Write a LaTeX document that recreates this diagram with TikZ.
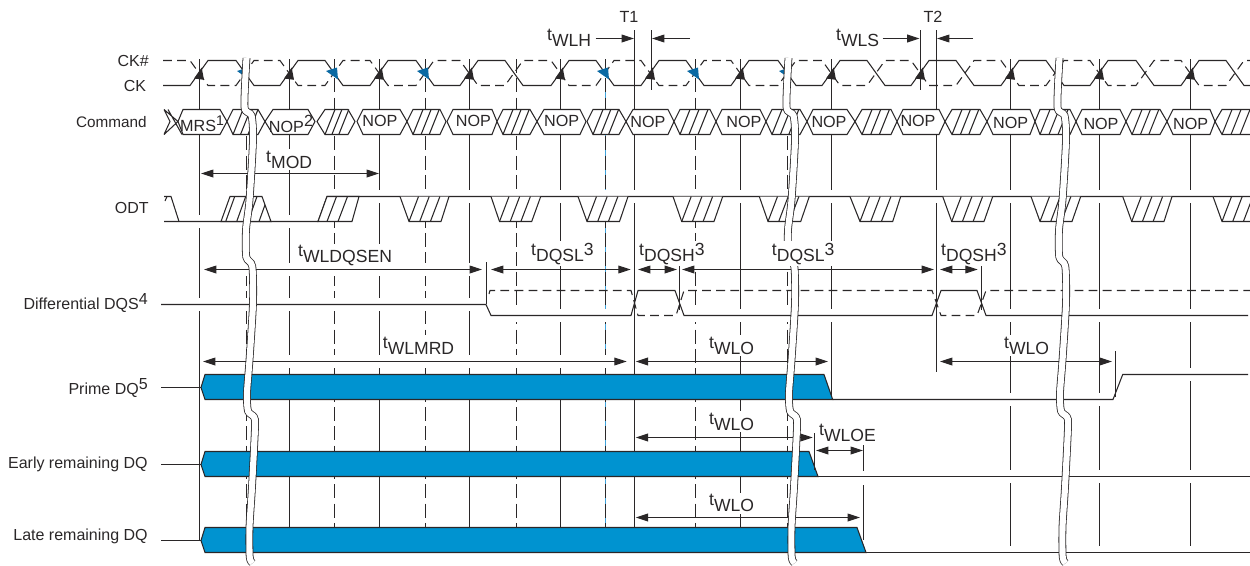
\documentclass[tikz,border=0pt]{standalone}
\usepackage{fontspec}
\setmainfont{Liberation Sans}
\usetikzlibrary{arrows.meta}
\definecolor{ink}{HTML}{2A2728}
\definecolor{qblue}{HTML}{0093D0}
\definecolor{dkblue}{HTML}{0A69A3}
\definecolor{ltblue}{HTML}{3FA2DA}
\newcommand{\upmark}[1]{\raisebox{3.4pt}{#1}}
\newcommand{\tparam}[2]{\upmark{t}#1\upmark{#2}}

\begin{document}
\begin{tikzpicture}[
        x=0.02cm, y=-0.02cm,
        wire/.style={draw=ink, line width=0.6pt},
        vline/.style={draw=ink, line width=0.55pt},
        dline/.style={draw=ink, line width=0.55pt, dash pattern=on 8pt off 3pt},
        dwire/.style={draw=ink, line width=0.6pt, dash pattern=on 5pt off 3pt},
        halo/.style={draw=white, line width=7.4pt},
        span/.style={{Triangle[length=7pt,width=4.4pt]}-{Triangle[length=7pt,width=4.4pt]}, draw=ink, line width=0.6pt},
        pointer/.style={-{Triangle[length=7pt,width=4.4pt]}, draw=ink, line width=0.6pt},
        bus/.style={draw=ink, fill=white, line width=0.6pt},
        bar/.style={draw=ink, fill=qblue, line width=0.6pt},
        sig/.style={anchor=east, inner sep=0pt, text=ink, font=\fontsize{9.1}{10}\selectfont},
        cmd/.style={inner sep=0pt, text=ink, font=\fontsize{9.2}{10}\selectfont},
        tlab/.style={anchor=base west, inner xsep=0.5pt, inner ysep=1pt, fill=white, text=ink, font=\fontsize{10}{11}\selectfont}
    ]
    \useasboundingbox (0,0) rectangle (1250,565);

    % Clock edges and cut marks
    \foreach \x in {199.5,289.5,379.5,469.5,560.5,740.5} \draw [vline] (\x,59) -- (\x,527);
    \draw [vline] (199.5,527) -- (199.5,540);
    \draw [vline] (831.5,59) -- (831.5,398);
    \draw [vline] (634.5,30) -- (634.5,527);
    \draw [vline] (651.5,30) -- (651.5,90);
    \draw [vline] (920.5,30) -- (920.5,90);
    \draw [vline] (936.5,30) -- (936.5,372);
    \foreach \x in {1010.5,1099.5,1190.5} \draw [vline] (\x,59) -- (\x,552);
    \draw [draw=ltblue, line width=0.5pt] (605.5,86) -- (605.5,527);
    \foreach \x in {246.5,334.5,425.5,516.5,605.5,695.5,787.5} \draw [dline] (\x,59) -- (\x,527);

    % White gaps in the edge lines
    \draw [halo] (164,221.5) -- (318,221.5);
    \draw [halo] (327,196.5) -- (1250,196.5);
    \draw [halo] (163,304.5) -- (486,304.5);
    \draw [halo] (491,315.5) -- (628,315.5);
    \draw [halo] (690,315.5) -- (926,315.5);
    \draw [halo] (990,315.5) -- (1250,315.5);
    \draw [halo] (833,399.5) -- (1113,399.5);
    \draw [halo] (1123,374.5) -- (1250,374.5);
    \draw [halo] (818,476.5) -- (1250,476.5);
    \draw [halo] (866,552.5) -- (1250,552.5);
    \draw [halo] (204,269.5) -- (482,269.5);
    \draw [halo] (203,361.5) -- (627,361.5);

    % CK and CK#
    \draw [dwire] (163,60.5) \foreach \r/\f in {199/245,289/334,379/425,469/514,560/605,650/695,740/787,831/876,920/965,1010/1055,1099/1145,1190/1235} { -- (\r-9,60.5) -- (\r+9,85.5) -- (\f-9,85.5) -- (\f+9,60.5) } -- (1250,60.5);
    \draw [wire] (163,85.5) \foreach \r/\f in {199/245,289/334,379/425,469/514,560/605,650/695,740/787,831/876,920/965,1010/1055,1099/1145,1190/1235} { -- (\r-9,85.5) -- (\r+9,60.5) -- (\f-9,60.5) -- (\f+9,85.5) } -- (1250,85.5);
    \foreach \x in {199,289,379,469,560,650,740,831,920,1010,1099,1190} \fill [ink] (\x+2.7,67.5) -- (\x-5,78.5) -- (\x+5,79.8) -- cycle;
    \foreach \x in {245,334,425,605,695,787} \fill [dkblue] (\x-8,71) -- (\x+3,67.5) -- (\x+4,79.5) -- cycle;

    % Command
    \draw [ink, line width=0.6pt] (164,109.5) -- (178,121.5) -- (164,134.5) (168,109.5) -- (182,134.5) (164,134.5) -- (170,121.5) -- (164,109.5);
    \foreach \a/\b/\c/\d in {178/183/220/227,265/273/308/315,357/363/400/407,447/453/492/497,537/544/580/586,626/633/668/674,716/722/760/766,807/813/847/855,897/903/939/945,987/993/1030/1035,1076/1082/1120/1126,1167/1173/1210/1215}
        \draw [bus] (\a,121.5) -- (\b,109.5) -- (\c,109.5) -- (\d,121.5) -- (\c,134.5) -- (\b,134.5) -- cycle;
    \foreach \a/\b/\c/\d in {227/233/258/265,317/325/348/355,407/413/440/446,497/503/530/537,587/593/619/626,674/680/710/716,766/772/800/807,855/862/891/897,945/952/980/987,1035/1040/1070/1076,1126/1132/1160/1167} {
        \draw [bus] (\a,121.5) -- (\b,109.5) -- (\c,109.5) -- (\d,121.5) -- (\c,134.5) -- (\b,134.5) -- cycle;
        \foreach \k in {0,1,2} \draw [wire] ({\b+\k*0.3*(\c-\b)},134.5) -- ({\b+\k*0.3*(\c-\b)+10},109.5);
    }
    \draw [bus] (1250,109.5) -- (1222,109.5) -- (1215,121.5) -- (1222,134.5) -- (1250,134.5);
    \foreach \k in {0,1,2} \draw [wire] (1222+\k*9,134.5) -- (1232+\k*9,109.5);

    \node (mrs) [cmd] at (202,124) {MRS\upmark{\fontsize{8}{8}\selectfont 1}};
    \node (nop2) [cmd] at (291,124) {NOP\upmark{2}};
    \foreach \x/\y [count=\i] in {380/121,473.5/121,561.7/121,648/122,744/122,829/122,918/121,1010.7/123,1101/124,1190.7/124}
        \node (nop\i) [cmd] at (\x,\y) {NOP};

    % ODT
    \draw [wire] (164,196.5) -- (171,196.5) -- (179,221.5);
    \draw [wire] (165,201) -- (167,196.5);
    \draw [wire] (164,221.5) -- (318,221.5) -- (327,196.5) -- (1250,196.5);
    \draw [bus] (221,221.5) -- (230,196.5) -- (262,196.5) -- (271,221.5) -- cycle;
    \begin{scope}
        \clip (221,221.5) -- (230,196.5) -- (262,196.5) -- (271,221.5) -- cycle;
        \foreach \x in {225.7,236.7,248,259} \draw [wire] (\x,221.5) -- (\x+9,196.5);
    \end{scope}
    \draw [bus] (318,221.5) -- (327,196.5) -- (359,196.5) -- (352,221.5) -- cycle;
    \foreach \x in {327,338} \draw [wire] (\x,221.5) -- (\x+9.5,196.5);
    \foreach \p/\q/\r/\s in {400/409/441/449,491/499.5/531.7/540.7,578/587/619.5/628,673/681.7/714/722.7,759.3/768/800.7/809.3,850/860/892.7/900.7,942.7/951.7/984/992.7,1031/1040/1072/1080.7,1122.7/1131.7/1164/1172} {
        \draw [bus] (\p,196.5) -- (\q,221.5) -- (\r,221.5) -- (\s,196.5);
        \foreach \k in {0,1,2} \draw [wire] (\q+\k*10.7,221.5) -- (\q+\k*10.7+9.5,196.5);
    }
    \draw [bus] (1213,196.5) -- (1222,221.5) -- (1250,221.5);
    \foreach \k in {0,1,2} \draw [wire] (1222+\k*10.7,221.5) -- (1231.5+\k*10.7,196.5);

    % Differential DQS
    \draw [dwire] (489,294) -- (490,290.5) -- (631,290.5) -- (638,315.5) -- (676,315.5) -- (684,290.5) -- (932,290.5) -- (941,315.5) -- (977,315.5) -- (986,290.5) -- (1250,290.5);
    \draw [wire] (161,304.5) -- (486,304.5) -- (491,315.5) -- (631,315.5) -- (638,290.5) -- (675,290.5) -- (684,315.5) -- (932,315.5) -- (941,290.5) -- (977,290.5) -- (986,315.5) -- (1248,315.5);
    \draw [vline] (486.5,262) -- (486.5,304);
    \draw [vline] (679.5,266) -- (679.5,310);
    \draw [vline] (981.5,260) -- (981.5,310);

    % Prime, early and late DQ
    \draw [wire] (161,387.5) -- (201,387.5);
    \draw [wire] (161,464.5) -- (201,464.5);
    \draw [wire] (161,540.5) -- (201,540.5);
    \draw [bar] (201,387.5) -- (205,374.5) -- (824,374.5) -- (832.7,399.5) -- (205,399.5) -- cycle;
    \draw [bar] (201,464.5) -- (205,451.5) -- (809,451.5) -- (818,476.5) -- (205,476.5) -- cycle;
    \draw [bar] (201,540.5) -- (205,527.5) -- (857,527.5) -- (866,552.5) -- (205,552.5) -- cycle;
    \draw [wire] (832.7,399.5) -- (1113,399.5) -- (1122.7,374.5) -- (1248,374.5);
    \draw [wire] (818,476.5) -- (1250,476.5);
    \draw [wire] (866,552.5) -- (1250,552.5);
    \draw [vline] (1115.5,351) -- (1115.5,397);
    \draw [vline] (814.5,433) -- (814.5,470);
    \draw [vline] (863.5,445) -- (863.5,471);
    \draw [vline] (863.5,485) -- (863.5,540);

    % Labels
    \node (ckb) [sig] at (149,61) {CK\#};
    \node (ck) [sig] at (146.5,86) {CK};
    \node (command) [sig, font=\fontsize{8.7}{10}\selectfont] at (147,122) {Command};
    \node (odt) [sig] at (149,208) {ODT};
    \node (dqs) [sig] at (148,303) {Differential DQS\upmark{4}};
    \node (prime) [sig] at (148,388) {Prime DQ\upmark{5}};
    \node (early) [sig] at (148,464) {Early remaining DQ};
    \node (late) [sig] at (148,536) {Late remaining DQ};
    \node (t1) [cmd] at (629,17) {T1};
    \node (t2) [cmd] at (933,17) {T2};

    \node (wlh) [tlab] at (546,46.7) {\tparam{WLH}{}};
    \node (wls) [tlab] at (835,46.7) {\tparam{WLS}{}};
    \node (mod) [tlab] at (265,168) {\tparam{MOD}{}};
    \node (wldqsen) [tlab] at (297,262.7) {\tparam{WLDQSEN}{}};
    \node (dqsla) [tlab] at (530,261) {\tparam{DQSL}{3}};
    \node (dqsha) [tlab] at (638,261) {\tparam{DQSH}{3}};
    \node (dqshb) [tlab] at (940,261) {\tparam{DQSH}{3}};
    \node (wlmrd) [tlab] at (381.7,354) {\tparam{WLMRD}{}};
    \node (wloa) [tlab] at (708,354) {\tparam{WLO}{}};
    \node (wlob) [tlab] at (1003,354) {\tparam{WLO}{}};
    \node (wloc) [tlab] at (708,430) {\tparam{WLO}{}};
    \node (wloe) [tlab] at (818,441.7) {\tparam{WLOE}{}};
    \node (wlod) [tlab] at (708,511.7) {\tparam{WLO}{}};

    % Arrows
    \draw [pointer] (595.7,38.5) -- (634,38.5);
    \draw [pointer] (690,38.5) -- (652,38.5);
    \draw [pointer] (882.7,38.5) -- (919.5,38.5);
    \draw [pointer] (973,38.5) -- (937,38.5);
    \draw [span] (201,173.5) -- (379,173.5);
    \draw [span] (204,269.5) -- (482,269.5);
    \draw [span] (491,269.5) -- (630.7,269.5);
    \draw [span] (638,269.5) -- (677,269.5);
    \draw [span] (682,269.5) -- (934,269.5);
    \draw [span] (940,269.5) -- (977.7,269.5);
    \draw [span] (203,361.5) -- (626.7,361.5);
    \draw [span] (635.7,361.5) -- (828,361.5);
    \draw [span] (940,361.5) -- (1112,361.5);
    \draw [span] (635.7,437.5) -- (812.7,437.5);
    \draw [span] (816,450.5) -- (863,450.5);
    \draw [span] (635.7,517.5) -- (860,517.5);

    % Time breaks
    \foreach \dx in {0,542,813} {
        \draw [xshift=\dx*0.02cm, draw=ink, line width=0.45pt, double=white, double distance=3.5pt]
            plot [smooth, tension=0.45] coordinates {(246.5,58) (244.5,107) (251.5,115.5) (253,140) (249.5,200) (246,230) (246.3,257) (252.3,266.5) (253,303) (249.5,360) (247,393) (248,411) (254,417) (255,427) (252,487) (249.5,527) (249.7,557) (252.5,563)};
    }
    \node (dqslb) [tlab] at (770.7,261) {\tparam{DQSL}{3}};

    \end{tikzpicture}
\end{document}
